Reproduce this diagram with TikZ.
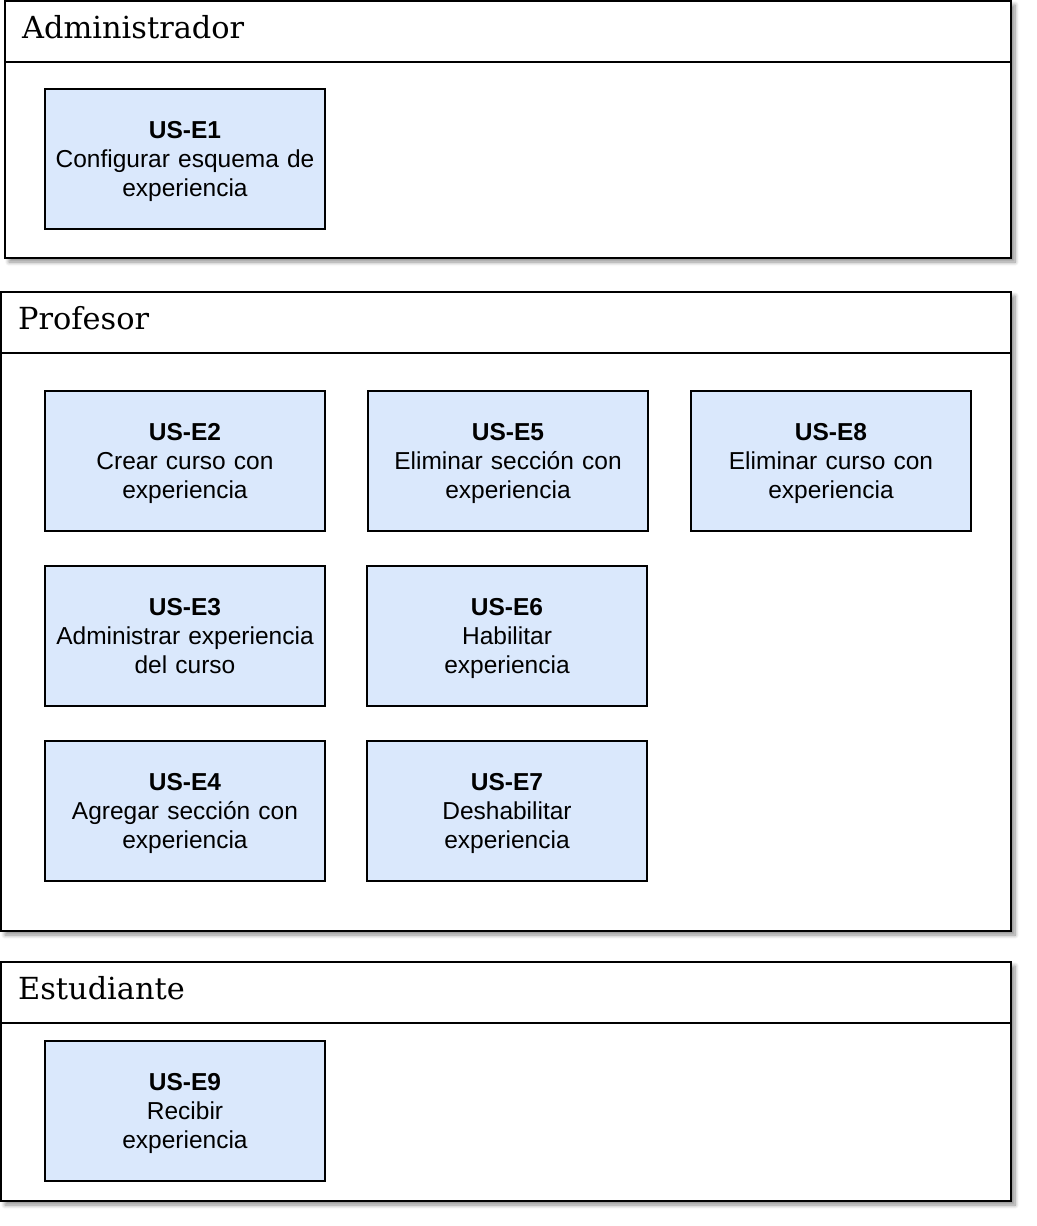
\documentclass[tikz,border=0pt]{standalone}
\usepackage{fontspec}
\setmainfont{Liberation Sans}
\newfontfamily\lanefont{DejaVu Serif}
\usetikzlibrary{shadows.blur}
\definecolor{storyblue}{HTML}{DAE8FC}

\begin{document}
\begin{tikzpicture}[x=1pt, y=-1pt,
    lane/.style={draw, line width=2pt, fill=white, anchor=north west, inner sep=0pt, outer sep=0pt,
        blur shadow={shadow xshift=4pt, shadow yshift=-4pt, shadow blur radius=4pt, shadow blur steps=8,
            shadow opacity=45}},
    lanetitle/.style={anchor=base west, inner sep=0pt, font=\fontsize{30.4}{36}\selectfont\lanefont},
    story/.style={draw, line width=2pt, fill=storyblue, minimum width=280pt, minimum height=140pt,
        text width=276pt, align=center, inner sep=0pt, font=\fontsize{24.5}{29}\selectfont,
        execute at begin node={\rule{0pt}{23pt}}, execute at end node={\rule[-6pt]{0pt}{6pt}}}]

    \useasboundingbox (0,0) rectangle (1036,1226);

    % lanes
    \node[lane, minimum width=1006pt, minimum height=257pt] (adm) at (5,1) {};
    \node[lane, minimum width=1010pt, minimum height=639pt] (prof) at (1,292) {};
    \node[lane, minimum width=1010pt, minimum height=239pt] (est) at (1,962) {};

    \foreach \lanename in {adm, prof, est}
        \draw[line width=2pt] ([yshift=-61pt]\lanename.north west) -- ([yshift=-61pt]\lanename.north east);

    \node[lanetitle] (admtitle) at ([xshift=17pt, yshift=-37pt]adm.north west) {Administrador};
    \node[lanetitle] (proftitle) at ([xshift=17pt, yshift=-37pt]prof.north west) {Profesor};
    \node[lanetitle] (esttitle) at ([xshift=17pt, yshift=-37pt]est.north west) {Estudiante};

    % stories
    \node[story] (E1) at (185,159) {\textbf{US-E1}\\Configurar esquema de\\experiencia};

    \node[story] (E2) at (185,461) {\textbf{US-E2}\\Crear curso con\\experiencia};
    \node[story] (E5) at (508,461) {\textbf{US-E5}\\Eliminar sección con\\experiencia};
    \node[story] (E8) at (831,461) {\textbf{US-E8}\\Eliminar curso con\\experiencia};
    \node[story] (E3) at (185,636) {\textbf{US-E3}\\Administrar experiencia\\del curso};
    \node[story] (E6) at (507,636) {\textbf{US-E6}\\Habilitar\\experiencia};
    \node[story] (E4) at (185,811) {\textbf{US-E4}\\Agregar sección con\\experiencia};
    \node[story] (E7) at (507,811) {\textbf{US-E7}\\Deshabilitar\\experiencia};

    \node[story] (E9) at (185,1111) {\textbf{US-E9}\\Recibir\\experiencia};

\end{tikzpicture}
\end{document}
